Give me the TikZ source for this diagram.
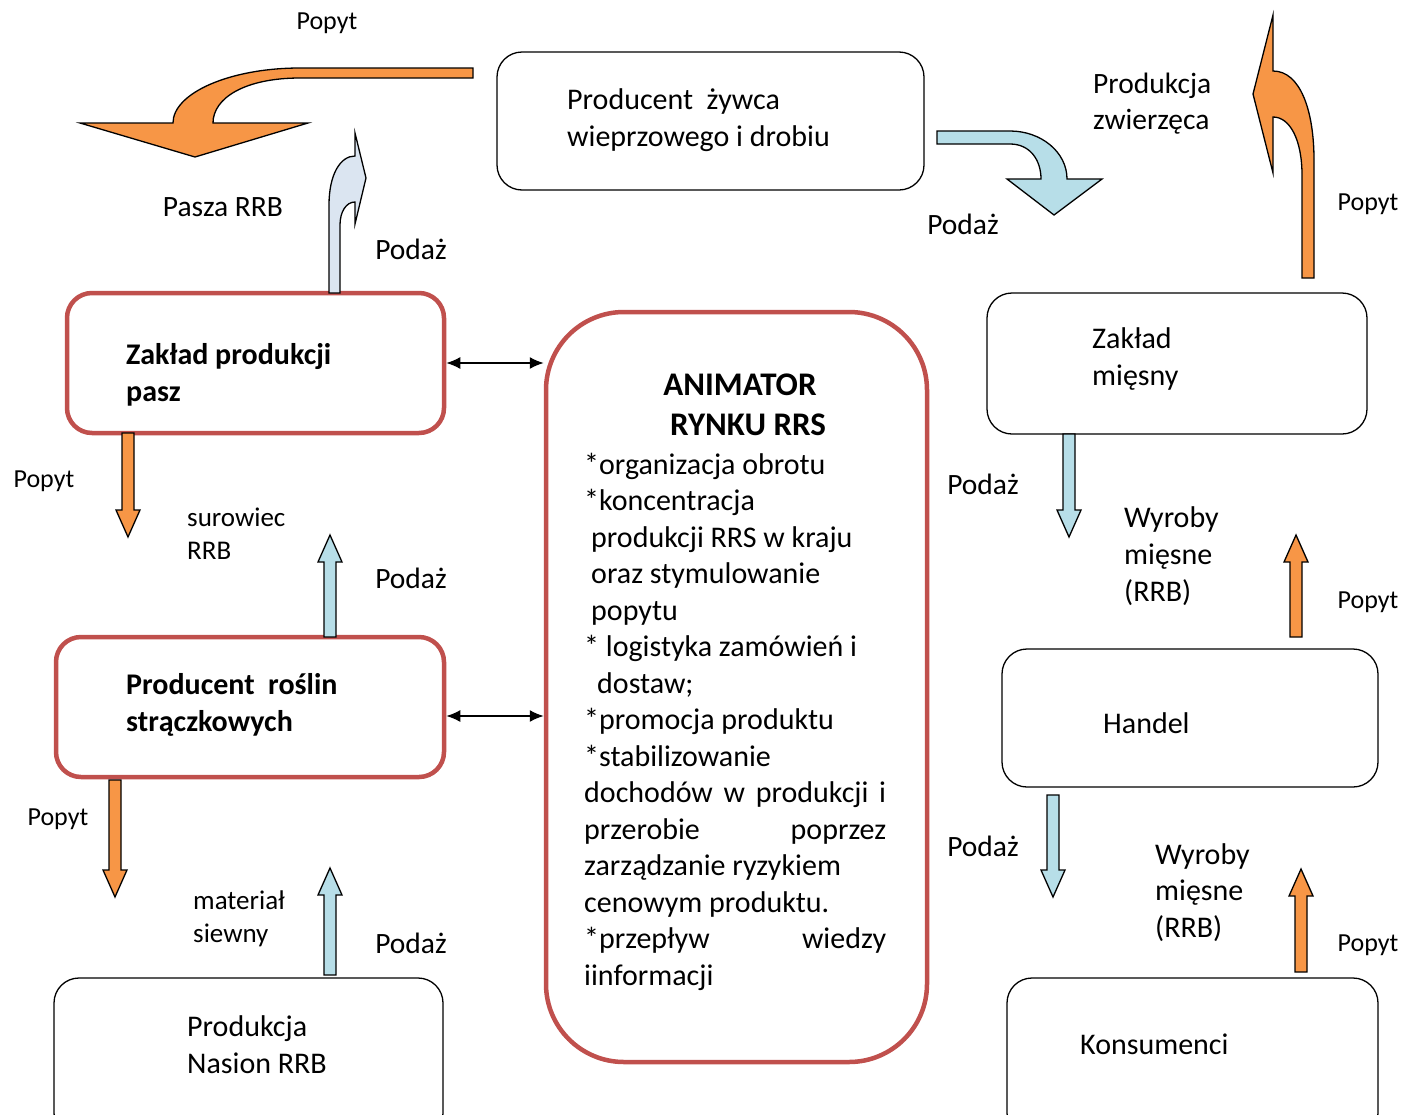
\documentclass[tikz,border=0pt]{standalone}
\usepackage{fontspec}
\setmainfont{Carlito}
\usetikzlibrary{arrows.meta}
\definecolor{redb}{RGB}{192,80,77}
\definecolor{orng}{RGB}{247,150,70}
\definecolor{lblue}{RGB}{183,222,232}
\definecolor{pblue}{RGB}{219,229,241}
\newcommand{\vblk}[5]{\filldraw[blk, fill=#5] ({#1-6},#2) -- ({#1-6},#3) -- ({#1-12},#3) -- (#1,#4) -- ({#1+12},#3) -- ({#1+6},#3) -- ({#1+6},#2) -- cycle;}
\begin{document}
\begin{tikzpicture}[x=1pt,y=-1pt,
 rbox/.style={draw=redb, line width=4.5pt, rounded corners=25pt, rectangle, inner sep=0pt},
 bbox/.style={draw=black, line width=1.3pt, rounded corners=25pt, rectangle, inner sep=0pt},
 lbl/.style={inner sep=0pt, align=left, yshift=-2.5pt, font=\fontsize{29.5}{36.5}\selectfont},
 plbl/.style={inner sep=0pt, align=left, yshift=-2pt, font=\fontsize{26}{36.5}\selectfont},
 btxt/.style={inner sep=0pt, align=left, anchor=west, yshift=-2.5pt, font=\fontsize{30}{37}\selectfont},
 blk/.style={draw=black, line width=1.3pt, line join=miter},
 dbl/.style={{Latex[length=14pt,width=12pt]}-{Latex[length=14pt,width=12pt]}, line width=1.6pt}]
\useasboundingbox (0,0) rectangle (1402,1114);
\clip (0,0) rectangle (1402,1114);

% boxes
\node[bbox, minimum width=427pt, minimum height=138pt] (zyw) at (710.5,121) {};
\node[rbox, minimum width=377pt, minimum height=140pt] (pasz) at (255.5,363) {};
\node[rbox, minimum width=388pt, minimum height=140pt] (stracz) at (250,707) {};
\node[bbox, minimum width=389pt, minimum height=160pt] (nasion) at (248.5,1058) {};
\node[rbox, minimum width=381pt, minimum height=750pt, rounded corners=78pt] (anim) at (736.5,687) {};
\node[bbox, minimum width=380pt, minimum height=141pt] (mies) at (1177,363.5) {};
\node[bbox, minimum width=376pt, minimum height=138pt] (handel) at (1190,718) {};
\node[bbox, minimum width=371pt, minimum height=160pt] (kons) at (1192.5,1058) {};

% box texts
\node[btxt] (tzyw) at (567,118) {Producent\ \ żywca\\wieprzowego i drobiu};
\node[btxt, font=\fontsize{30}{37}\selectfont\bfseries] (tpasz) at (126,372) {Zakład produkcji\\pasz};
\node[btxt, font=\fontsize{30}{37}\selectfont\bfseries] (tstr) at (126,702) {Producent\ \ roślin\\strączkowych};
\node[btxt] (tnas) at (187,1042) {Produkcja\\Nasion RRB};
\node[btxt] (tmies) at (1092,356) {Zakład\\mięsny};
\node[btxt] (thand) at (1103,721) {Handel};
\node[btxt] (tkons) at (1080,1042) {Konsumenci};

% animator text
\node[inner sep=0pt, align=center, font=\fontsize{33}{39.5}\selectfont\bfseries] (atitle) at (740,405) {ANIMATOR\\\hspace*{16pt}RYNKU RRS};
\node[inner sep=0pt, align=left, anchor=west, font=\fontsize{30}{36.5}\selectfont] (abody) at (584,721.5) {%
*organizacja obrotu\\
*koncentracja\\
\hspace*{7pt}produkcji RRS w kraju\\
\hspace*{7pt}oraz stymulowanie\\
\hspace*{7pt}popytu\\
* logistyka zamówień i\\
\hspace*{13pt}dostaw;\\
*promocja produktu\\
*stabilizowanie\\
\makebox[302pt][s]{dochodów w produkcji i}\\
\makebox[302pt][s]{przerobie poprzez}\\
zarządzanie ryzykiem\\
cenowym produktu.\\
\makebox[302pt][s]{*przepływ wiedzy}\\
iinformacji};

% double arrows
\draw[dbl] (pasz.east) -- (pasz.east -| anim.west);
\draw[dbl] ([yshift=-9pt]stracz.east) -- ([yshift=-9pt]stracz.east -| anim.west);

% straight block arrows
\vblk{128}{433}{510}{537}{orng}
\vblk{330}{637}{562}{535}{lblue}
\vblk{115}{780}{870}{897}{orng}
\vblk{330}{975}{895}{868}{lblue}
\vblk{1069}{434}{510}{537}{lblue}
\vblk{1296}{637}{562}{535}{orng}
\vblk{1053}{795}{870}{897}{lblue}
\vblk{1301}{972}{896}{869}{orng}

% curved block arrows
\filldraw[blk, fill=orng] (473,68) -- (300,68) .. controls (230,68) and (173,93) .. (173,123) -- (80,123) -- (195,157) -- (308,123) -- (213,123) .. controls (213,98) and (245,78) .. (300,78) -- (473,78) -- cycle;
\filldraw[blk, fill=pblue] (329,293) -- (329,205) .. controls (329,175) and (340,156) .. (355,156) -- (355,133) -- (366,178) -- (355,224) -- (355,202) .. controls (346,202) and (340,212) .. (340,225) -- (340,293) -- cycle;
\filldraw[blk, fill=lblue] (937,131) -- (1010,131) .. controls (1041,131) and (1067,152) .. (1067,179) -- (1102,179) -- (1054,215) -- (1007,179) -- (1041,179) .. controls (1041,160) and (1030,144) .. (1010,144) -- (937,144) -- cycle;
\filldraw[blk, fill=orng] (1302,278) -- (1302,175) .. controls (1302,140) and (1290,117) .. (1273,117) -- (1273,173) -- (1253,94) -- (1273,15) -- (1273,71) .. controls (1300,71) and (1314,110) .. (1314,160) -- (1314,278) -- cycle;

% labels
\node[plbl] (pop1) at (327,21) {Popyt};
\node[lbl] (pasza) at (223,205) {Pasza RRB};
\node[lbl] (pod1) at (411,247) {Podaż};
\node[lbl, anchor=west] (prodzw) at (1093,101) {Produkcja\\zwierzęca};
\node[lbl] (pod2) at (963,222) {Podaż};
\node[plbl] (pop2) at (1368,202) {Popyt};
\node[plbl] (pop3) at (44,479) {Popyt};
\node[lbl, anchor=west, font=\fontsize{27}{33}\selectfont] (sur) at (187,531) {surowiec\\RRB};
\node[lbl] (pod3) at (411,576) {Podaż};
\node[plbl] (pop4) at (58,817) {Popyt};
\node[lbl, anchor=west, font=\fontsize{27}{33}\selectfont] (mat) at (193,916) {materiał\\siewny};
\node[lbl] (pod4) at (411,941) {Podaż};
\node[lbl] (pod5) at (983,482) {Podaż};
\node[lbl, anchor=west, font=\fontsize{30}{37}\selectfont] (wyr1) at (1124,554) {Wyroby\\mięsne\\(RRB)};
\node[plbl] (pop5) at (1368,600) {Popyt};
\node[lbl] (pod6) at (983,844) {Podaż};
\node[lbl, anchor=west, font=\fontsize{30}{36.5}\selectfont] (wyr2) at (1155,890) {Wyroby\\mięsne\\(RRB)};
\node[plbl] (pop6) at (1368,943) {Popyt};
\end{tikzpicture}
\end{document}
